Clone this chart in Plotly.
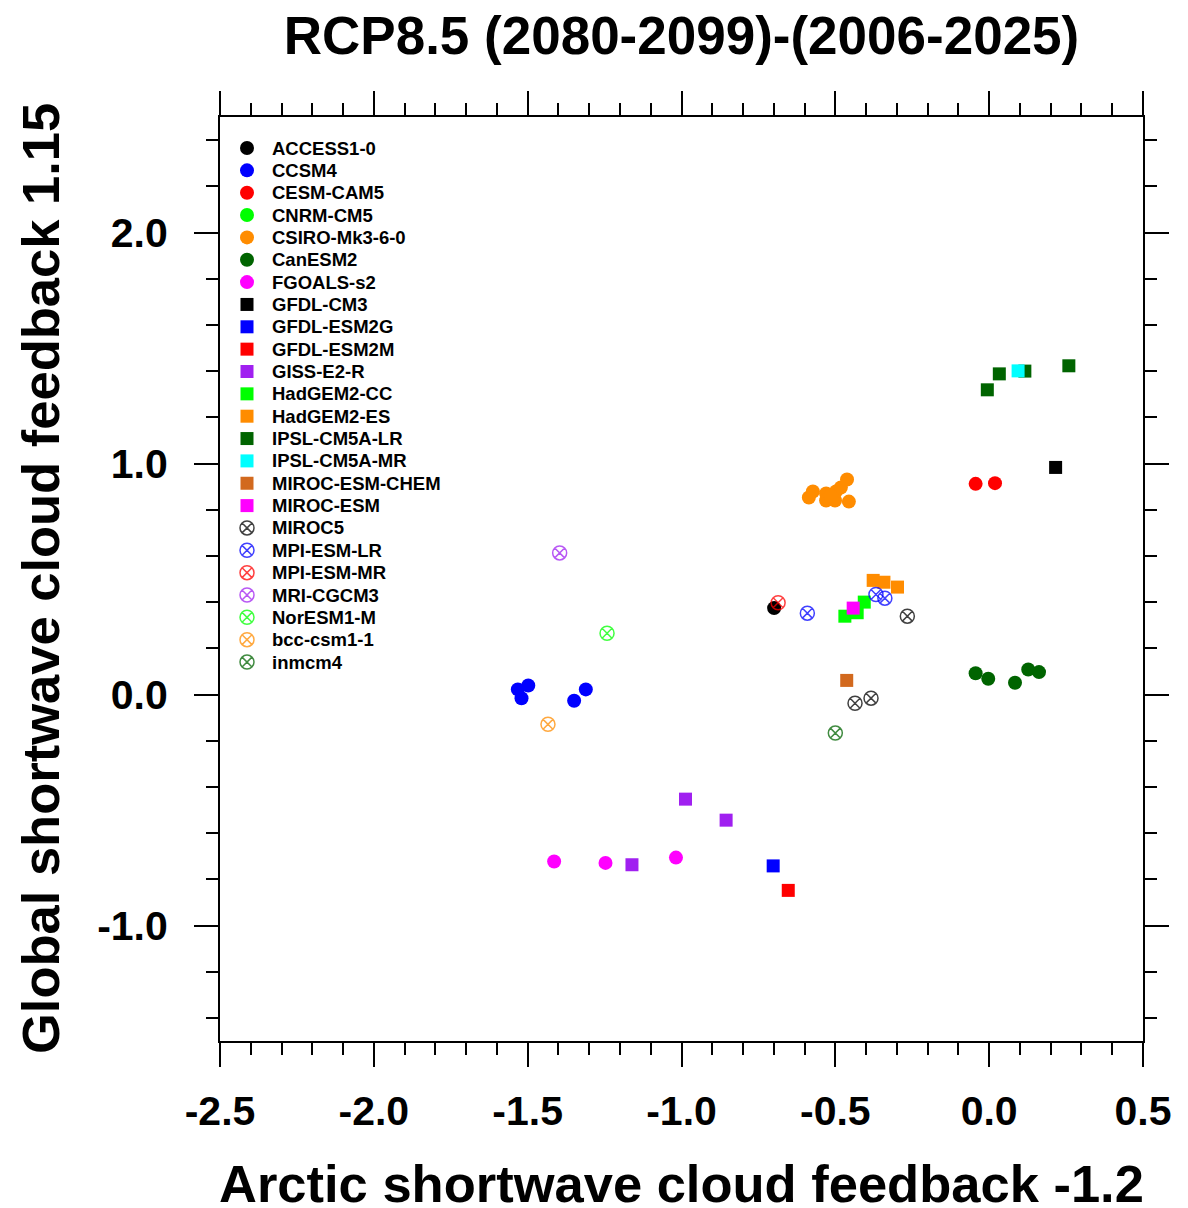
import plotly.graph_objects as go

# --- data (x = Arctic SW cloud feedback, y = global SW cloud feedback) ---
models = ['ACCESS1-0', 'CCSM4', 'CESM-CAM5', 'CNRM-CM5', 'CSIRO-Mk3-6-0', 'CanESM2',
          'FGOALS-s2', 'GFDL-CM3', 'GFDL-ESM2G', 'GFDL-ESM2M', 'GISS-E2-R', 'HadGEM2-CC',
          'HadGEM2-ES', 'IPSL-CM5A-LR', 'IPSL-CM5A-MR', 'MIROC-ESM-CHEM', 'MIROC-ESM',
          'MIROC5', 'MPI-ESM-LR', 'MPI-ESM-MR', 'MRI-CGCM3', 'NorESM1-M', 'bcc-csm1-1', 'inmcm4']

access_x = [-0.699]
access_y = [0.374]
ccsm4_x = [-1.532, -1.498, -1.520, -1.349, -1.311]
ccsm4_y = [0.022, 0.039, -0.016, -0.027, 0.022]
cesm_x = [-0.044, 0.019]
cesm_y = [0.912, 0.915]
cnrm_x = []
cnrm_y = []
csiro_x = [-0.586, -0.573, -0.530, -0.530, -0.501, -0.498, -0.482, -0.462, -0.456, -0.515]
csiro_y = [0.853, 0.879, 0.870, 0.840, 0.840, 0.879, 0.896, 0.931, 0.835, 0.860]
canesm_x = [-0.044, -0.003, 0.084, 0.127, 0.162]
canesm_y = [0.092, 0.068, 0.051, 0.108, 0.097]
fgoals_x = [-1.414, -1.247, -1.018]
fgoals_y = [-0.723, -0.729, -0.706]
gfdlcm3_x = [0.216]
gfdlcm3_y = [0.983]
esm2g_x = [-0.702]
esm2g_y = [-0.742]
esm2m_x = [-0.653]
esm2m_y = [-0.848]
giss_x = [-0.987, -0.855, -1.161]
giss_y = [-0.453, -0.544, -0.737]
hadcc_x = [-0.469, -0.429, -0.406]
hadcc_y = [0.339, 0.354, 0.400]
hades_x = [-0.377, -0.342, -0.298]
hades_y = [0.494, 0.486, 0.465]
ipsllr_x = [0.033, -0.006, 0.116, 0.259]
ipsllr_y = [1.388, 1.319, 1.400, 1.423]
ipslmr_x = [0.094]
ipslmr_y = [1.401]
mirocchem_x = [-0.463]
mirocchem_y = [0.061]
mirocesm_x = [-0.442]
mirocesm_y = [0.374]
miroc5_x = [-0.266, -0.436, -0.384]
miroc5_y = [0.339, -0.038, -0.016]
mpilr_x = [-0.591, -0.368, -0.339]
mpilr_y = [0.352, 0.433, 0.417]
mpimr_x = [-0.686]
mpimr_y = [0.397]
mri_x = [-1.396]
mri_y = [0.613]
noresm_x = [-1.242]
noresm_y = [0.265]
bcc_x = [-1.434]
bcc_y = [-0.129]
inmcm_x = [-0.500]
inmcm_y = [-0.167]

xs = [access_x, ccsm4_x, cesm_x, cnrm_x, csiro_x, canesm_x, fgoals_x, gfdlcm3_x, esm2g_x,
      esm2m_x, giss_x, hadcc_x, hades_x, ipsllr_x, ipslmr_x, mirocchem_x, mirocesm_x,
      miroc5_x, mpilr_x, mpimr_x, mri_x, noresm_x, bcc_x, inmcm_x]
ys = [access_y, ccsm4_y, cesm_y, cnrm_y, csiro_y, canesm_y, fgoals_y, gfdlcm3_y, esm2g_y,
      esm2m_y, giss_y, hadcc_y, hades_y, ipsllr_y, ipslmr_y, mirocchem_y, mirocesm_y,
      miroc5_y, mpilr_y, mpimr_y, mri_y, noresm_y, bcc_y, inmcm_y]

# tick values / labels (plain hyphen minus, as in the NCL original)
x_ticks = [-2.5, -2.0, -1.5, -1.0, -0.5, 0.0, 0.5]
x_ticklabels = ['-2.5', '-2.0', '-1.5', '-1.0', '-0.5', '0.0', '0.5']
y_ticks = [-1.0, 0.0, 1.0, 2.0]
y_ticklabels = ['-1.0', '0.0', '1.0', '2.0']

# --- styles ---
cores = ['#000000', '#0000ff', '#ff0000', '#00ff00', '#ff8c00', '#006400', '#ff00ff',
         '#000000', '#0000ff', '#ff0000', '#a020f0', '#00ff00', '#ff8c00', '#006400',
         '#00ffff', '#d2691e', '#ff00ff',
         '#000000', '#0000ff', '#ff0000', '#a020f0', '#00ff00', '#ff8c00', '#006400']
simbolos = ['circle'] * 7 + ['square'] * 10 + ['circle-x-open'] * 7

FONTE = 'Liberation Sans, Arial, sans-serif'
W_PLOT, H_PLOT = 923, 924   # tamanho da área do gráfico em px (eixos auxiliares da legenda)


def marcador(simb, cor):
    if simb == 'circle':
        return dict(symbol=simb, color=cor, size=14)
    if simb == 'square':
        return dict(symbol=simb, color=cor, size=13)
    return dict(symbol=simb, color=cor, size=14, opacity=0.75, line=dict(color=cor, width=1.5))


fig = go.Figure()
for nome, x, y, cor, simb in zip(models, xs, ys, cores, simbolos):
    fig.add_trace(go.Scatter(x=x, y=y, mode='markers', name=nome,
                             marker=marcador(simb, cor), showlegend=False))

# --- legenda manual (espaçamento igual ao NCL), em eixos auxiliares em pixels ---
anotacoes = []
for i, (nome, cor, simb) in enumerate(zip(models, cores, simbolos)):
    ly = 31 + 22.35 * i
    fig.add_trace(go.Scatter(x=[27], y=[ly], mode='markers', marker=marcador(simb, cor),
                             xaxis='x2', yaxis='y2', showlegend=False, hoverinfo='skip'))
    anotacoes.append(dict(text=nome, xref='x2', yref='y2', x=50, y=ly, xanchor='left',
                          yanchor='middle', showarrow=False,
                          font=dict(family=FONTE, size=18.5, color='black', weight='bold')))

eixo = dict(showline=True, linewidth=2, linecolor='black', mirror='ticks',
            ticks='outside', ticklen=24, tickwidth=2, tickcolor='black',
            showgrid=False, zeroline=False,
            tickfont=dict(family=FONTE, size=41, color='black', weight='bold'))

# a página tem 8px de margem no body: compensado em l/t
fig.update_layout(
    width=1188, height=1208,
    margin=dict(l=212, r=53, t=109, b=175),
    plot_bgcolor='white', paper_bgcolor='white',
    title=dict(text='RCP8.5 (2080-2099)-(2006-2025)', x=0.5, xanchor='center', xref='paper',
               y=1 - 27 / 1208, yanchor='middle', yref='container',
               font=dict(family=FONTE, size=53, color='black', weight='bold')),
    xaxis=dict(range=[-2.5, 0.5], tickvals=x_ticks, ticktext=x_ticklabels, ticklabelstandoff=9,
               minor=dict(dtick=0.1, tick0=-2.5, ticklen=12, tickwidth=1.5, tickcolor='black',
                          ticks='outside'),
               **eixo),
    yaxis=dict(range=[-1.5, 2.5], tickvals=y_ticks, ticktext=y_ticklabels, ticklabelstandoff=18,
               minor=dict(dtick=0.2, tick0=0, ticklen=12, tickwidth=1.5, tickcolor='black',
                          ticks='outside'),
               **eixo),
    xaxis2=dict(overlaying='x', anchor='y2', range=[0, W_PLOT], visible=False, fixedrange=True),
    yaxis2=dict(overlaying='y', anchor='x2', range=[H_PLOT, 0], visible=False, fixedrange=True),
    showlegend=False,
    annotations=anotacoes + [
        dict(text='Arctic shortwave cloud feedback -1.2', xref='paper', yref='paper',
             x=0.5, y=-0.1537, xanchor='center', yanchor='middle', showarrow=False,
             font=dict(family=FONTE, size=52.5, color='black', weight='bold')),
        dict(text='Global shortwave cloud feedback 1.15', xref='paper', yref='paper',
             x=-0.195, y=0.5, xanchor='center', yanchor='middle', showarrow=False,
             textangle=-90,
             font=dict(family=FONTE, size=52.5, color='black', weight='bold')),
    ],
)

fig.write_html("out.html")
